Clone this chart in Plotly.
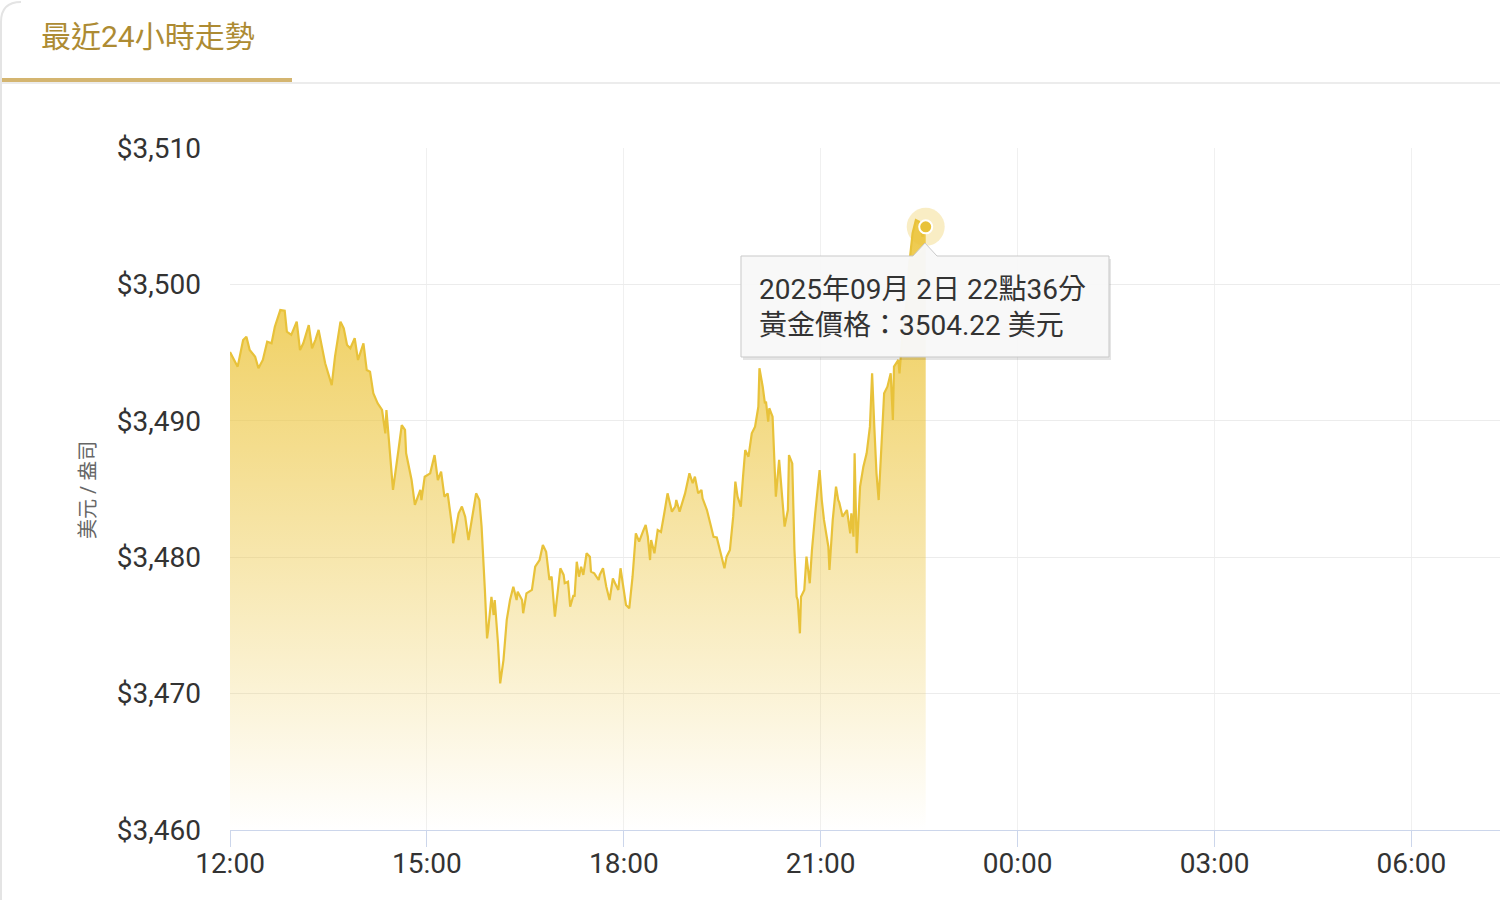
import pandas as pd
import plotly.graph_objects as go

# ---------------- data ----------------
minutes_since_noon = [
    0, 3, 7, 12, 15, 18, 23, 26, 30, 34,
    38, 41, 46, 50, 52, 56, 61, 64, 67, 72,
    75, 78, 81, 87, 93, 96, 101, 104, 107, 110,
    114, 117, 122, 125, 128, 131, 135, 139, 142, 143,
    145, 148, 149, 154, 157, 160, 161, 166, 169, 174,
    175, 178, 183, 187, 190, 193, 196, 199, 203, 204,
    209, 212, 215, 218, 221, 225, 228, 230, 233, 235,
    236, 239, 241, 242, 245, 247, 250, 253, 256, 259,
    262, 263, 267, 268, 271, 276, 279, 283, 286, 289,
    292, 294, 297, 302, 305, 306, 309, 311, 314, 315,
    317, 319, 321, 323, 326, 329, 330, 333, 337, 338,
    341, 344, 347, 350, 352, 355, 357, 359, 362, 365,
    368, 371, 374, 378, 380, 382, 384, 385, 388, 391,
    394, 397, 400, 404, 407, 408, 411, 416, 420, 423,
    425, 428, 431, 432, 436, 439, 442, 445, 448, 452,
    454, 457, 460, 462, 464, 467, 469, 471, 474, 477,
    480, 483, 484, 487, 489, 490, 492, 493, 496, 499,
    502, 505, 507, 510, 511, 514, 516, 518, 519, 521,
    522, 525, 527, 530, 532, 535, 539, 541, 543, 547,
    548, 551, 554, 556, 557, 560, 564, 567, 568, 570,
    571, 573, 576, 579, 582, 585, 587, 589, 591, 593,
    596, 598, 601, 604, 606, 607, 611, 612, 615, 619,
    621, 624, 627, 630, 633, 636,
]

gold_price = [
    3495.04, 3494.60, 3493.97, 3495.92, 3496.17, 3495.19, 3494.70, 3493.85, 3494.46, 3495.80,
    3495.68, 3496.90, 3498.12, 3498.07, 3496.53, 3496.30, 3497.27, 3495.19, 3495.68, 3497.02,
    3495.32, 3495.92, 3496.66, 3494.22, 3492.62, 3494.70, 3497.27, 3496.78, 3495.56, 3495.32,
    3496.05, 3494.46, 3495.68, 3493.72, 3493.60, 3492.02, 3491.28, 3490.79, 3489.08, 3490.79,
    3488.83, 3486.39, 3484.93, 3487.86, 3489.69, 3489.33, 3487.62, 3485.66, 3483.83, 3484.93,
    3484.19, 3485.90, 3486.15, 3487.49, 3485.66, 3486.27, 3484.44, 3484.67, 3482.24, 3481.02,
    3483.22, 3483.71, 3482.97, 3481.26, 3482.73, 3484.68, 3484.19, 3482.24, 3477.60, 3474.05,
    3474.66, 3477.10, 3475.76, 3476.86, 3473.69, 3470.75, 3472.46, 3475.40, 3476.86, 3477.84,
    3476.86, 3477.47, 3476.86, 3475.89, 3477.35, 3477.60, 3479.30, 3479.79, 3480.89, 3480.40,
    3478.33, 3478.57, 3475.64, 3479.19, 3478.70, 3478.09, 3478.20, 3476.37, 3477.23, 3477.10,
    3479.67, 3478.57, 3479.30, 3478.70, 3480.29, 3480.04, 3478.94, 3478.82, 3478.33, 3478.70,
    3479.19, 3477.84, 3476.86, 3478.45, 3478.09, 3477.60, 3479.19, 3478.09, 3476.50, 3476.25,
    3478.57, 3481.75, 3481.14, 3481.99, 3482.36, 3481.50, 3479.79, 3481.26, 3480.29, 3481.99,
    3481.85, 3483.22, 3484.68, 3483.34, 3483.71, 3484.19, 3483.34, 3484.68, 3486.15, 3485.42,
    3485.90, 3484.68, 3484.93, 3484.32, 3483.46, 3482.49, 3481.50, 3481.45, 3480.53, 3479.19,
    3480.04, 3480.53, 3482.97, 3485.54, 3484.44, 3483.71, 3485.90, 3487.86, 3487.37, 3489.08,
    3489.57, 3491.03, 3493.85, 3492.50, 3491.28, 3491.40, 3489.93, 3490.92, 3490.30, 3484.44,
    3487.13, 3484.19, 3482.24, 3483.46, 3487.49, 3486.88, 3480.53, 3477.10, 3476.86, 3474.42,
    3477.10, 3477.60, 3480.04, 3478.09, 3480.53, 3483.22, 3486.39, 3484.19, 3482.73, 3480.77,
    3479.06, 3482.73, 3485.17, 3484.19, 3484.00, 3482.97, 3483.46, 3481.75, 3483.22, 3481.50,
    3487.62, 3480.29, 3485.17, 3486.64, 3487.62, 3489.57, 3493.48, 3489.57, 3486.15, 3484.19,
    3489.08, 3492.02, 3492.50, 3493.48, 3490.06, 3493.97, 3494.46, 3493.48, 3496.50, 3499.00,
    3501.50, 3503.75, 3504.72, 3504.59, 3503.50, 3504.22,
]

x_tick_labels = ["12:00", "15:00", "18:00", "21:00", "00:00", "03:00", "06:00"]
y_tick_values = [3460, 3470, 3480, 3490, 3500, 3510]
y_tick_labels = ["$3,460", "$3,470", "$3,480", "$3,490", "$3,500", "$3,510"]
start_time = "2025-09-02 12:00"
title_text = "最近24小時走勢"
y_title = "美元 / 盎司"
tooltip_text = "2025年09月 2日 22點36分<br>黃金價格：3504.22 美元"

assert len(minutes_since_noon) == len(gold_price)

# ---------------- derived ----------------
t0 = pd.Timestamp(start_time)
times = [t0 + pd.Timedelta(minutes=m) for m in minutes_since_noon]
tick_vals = [t0 + pd.Timedelta(hours=3 * i) for i in range(len(x_tick_labels))]
x_end = t0 + pd.Timedelta(hours=19, minutes=21)
y_min, y_max = y_tick_values[0], y_tick_values[-1]

W, H = 1500, 900
ML, MR, MT, MB = 230, 0, 148, 70
PW, PH = W - ML - MR, H - MT - MB


def px(x):
    return (x - ML) / PW


def py(y):
    return (H - MB - y) / PH


FONT = "Roboto, 'Noto Sans CJK TC', 'Noto Sans', sans-serif"
GOLD = "#E8C23A"

fig = go.Figure()

fig.add_trace(go.Scatter(
    x=times, y=[y_min] * len(times), mode="lines",
    line=dict(width=0), hoverinfo="skip", showlegend=False,
))
fig.add_trace(go.Scatter(
    x=times, y=gold_price, mode="lines",
    line=dict(color=GOLD, width=2.2),
    fill="tonexty",
    fillgradient=dict(
        type="vertical", start=y_min, stop=3505,
        colorscale=[[0, "rgba(236,196,58,0.0)"],
                    [0.45, "rgba(236,196,58,0.42)"],
                    [1, "rgba(236,196,58,0.92)"]],
    ),
    hoverinfo="skip", showlegend=False,
))
fig.add_trace(go.Scatter(
    x=[times[-1]], y=[gold_price[-1]], mode="markers",
    marker=dict(size=38, color="rgba(236,196,58,0.3)"),
    hoverinfo="skip", showlegend=False,
))
fig.add_trace(go.Scatter(
    x=[times[-1]], y=[gold_price[-1]], mode="markers",
    marker=dict(size=13, color=GOLD, line=dict(color="white", width=2)),
    hoverinfo="skip", showlegend=False,
))


def box_path(dx=0, dy=0):
    l, r, t, b = 741 + dx, 1109 + dx, 256 + dy, 357 + dy
    nx, ny = 925 + dx, 243 + dy
    pts = [(l, t), (nx - 12, t), (nx, ny), (nx + 12, t), (r, t), (r, b), (l, b)]
    return "M " + " L ".join(f"{px(a):.5f},{py(c):.5f}" for a, c in pts) + " Z"


shapes = [
    dict(type="path", xref="paper", yref="paper", path=box_path(2, 3),
         fillcolor="rgba(0,0,0,0.10)", line=dict(width=0), layer="above"),
    dict(type="path", xref="paper", yref="paper", path=box_path(),
         fillcolor="rgba(248,248,248,0.97)", line=dict(color="#c9c9c9", width=1), layer="above"),
    dict(type="line", xref="paper", yref="paper", x0=px(0), x1=px(1500), y0=py(83), y1=py(83),
         line=dict(color="#ececec", width=2)),
    dict(type="line", xref="paper", yref="paper", x0=px(0), x1=px(292), y0=py(80), y1=py(80),
         line=dict(color="#D4B570", width=4)),
    dict(type="path", xref="paper", yref="paper",
         path=f"M {px(1):.5f},{py(900):.5f} L {px(1):.5f},{py(22):.5f} Q {px(1):.5f},{py(2):.5f} {px(21):.5f},{py(2):.5f}",
         line=dict(color="#e4e4e4", width=2)),
]

annotations = [
    dict(text=title_text, xref="paper", yref="paper", x=px(39), y=py(37),
         xanchor="left", yanchor="middle", showarrow=False,
         font=dict(family=FONT, size=30, color="#AD8B33")),
    dict(text=y_title, xref="paper", yref="paper", x=px(88), y=py(490),
         xanchor="center", yanchor="middle", showarrow=False, textangle=-90,
         font=dict(family=FONT, size=20, color="#666666")),
    dict(text=tooltip_text, xref="paper", yref="paper", x=px(757), y=py(307),
         xanchor="left", yanchor="middle", showarrow=False, align="left",
         font=dict(family=FONT, size=28, color="#333333")),
]

fig.update_layout(
    width=W, height=H,
    margin=dict(l=ML, r=MR, t=MT, b=MB),
    paper_bgcolor="white", plot_bgcolor="white",
    font=dict(family=FONT),
    hovermode=False,
    showlegend=False,
    shapes=shapes,
    annotations=annotations,
    xaxis=dict(
        type="date", range=[t0, x_end],
        tickvals=tick_vals, ticktext=x_tick_labels,
        showgrid=True, gridcolor="#f0f0f0", gridwidth=1,
        showline=True, linecolor="#ccd6eb", linewidth=1,
        ticks="outside", ticklen=16, tickcolor="#ccd6eb",
        ticklabelstandoff=-8,
        tickfont=dict(family=FONT, size=28, color="#333333"),
        zeroline=False, fixedrange=True,
    ),
    yaxis=dict(
        range=[y_min, y_max], tickvals=y_tick_values, ticktext=y_tick_labels,
        showgrid=True, gridcolor="#ececec", gridwidth=1,
        showline=False, zeroline=False,
        ticks="", ticklabelstandoff=28,
        tickfont=dict(family=FONT, size=28, color="#333333"),
        fixedrange=True,
    ),
)

fig.write_html("out.html", config={"displayModeBar": False},
               post_script="document.body.style.margin='0';")
